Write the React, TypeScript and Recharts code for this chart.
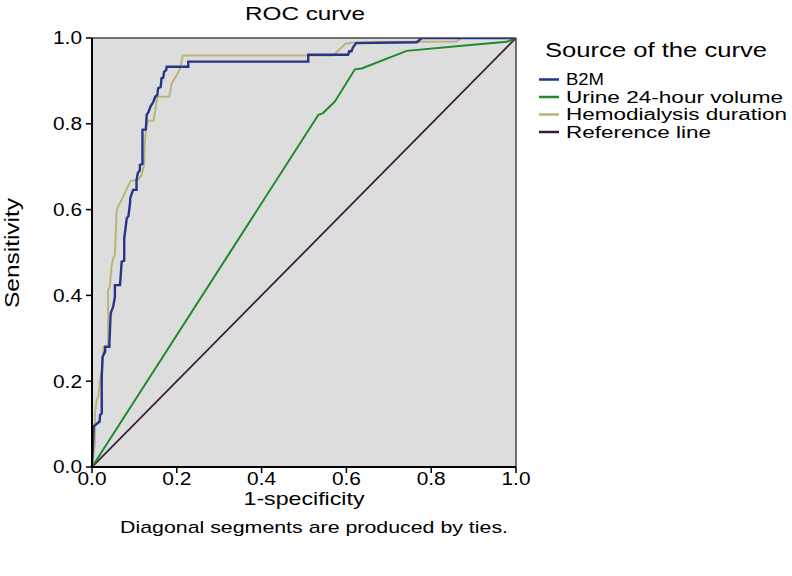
import React from 'react';
import {
  LineChart, Line, XAxis, YAxis, CartesianGrid, ReferenceLine,
} from 'recharts';

// ROC points: [1-specificity, sensitivity]
const b2mPoints: [number, number][] = [
  [0, 0], [0.004, 0.095], [0.018, 0.106], [0.019, 0.121], [0.023, 0.125],
  [0.023, 0.21], [0.025, 0.257], [0.031, 0.269], [0.031, 0.28], [0.041, 0.28],
  [0.041, 0.288], [0.044, 0.358], [0.05, 0.374], [0.054, 0.397], [0.054, 0.424],
  [0.066, 0.424], [0.068, 0.45], [0.07, 0.479], [0.076, 0.481], [0.076, 0.533],
  [0.079, 0.556], [0.082, 0.58], [0.086, 0.585], [0.09, 0.618], [0.09, 0.626],
  [0.094, 0.638], [0.097, 0.646], [0.105, 0.646], [0.105, 0.669], [0.108, 0.685],
  [0.113, 0.692], [0.113, 0.704], [0.119, 0.706], [0.119, 0.786], [0.127, 0.787],
  [0.129, 0.821], [0.133, 0.827], [0.138, 0.84], [0.145, 0.852], [0.149, 0.863],
  [0.154, 0.867], [0.156, 0.883], [0.162, 0.886], [0.164, 0.906], [0.168, 0.907],
  [0.17, 0.921], [0.175, 0.925], [0.176, 0.933], [0.227, 0.933], [0.227, 0.945],
  [0.51, 0.945], [0.51, 0.961], [0.604, 0.961], [0.607, 0.969], [0.612, 0.969],
  [0.615, 0.977], [0.623, 0.988], [0.766, 0.99], [0.778, 1], [1, 1],
];

const urinePoints: [number, number][] = [
  [0, 0], [0.534, 0.821], [0.545, 0.825], [0.573, 0.852], [0.62, 0.927],
  [0.636, 0.929], [0.742, 0.97], [0.899, 0.984], [0.978, 0.991], [1, 1],
];

const hemoPoints: [number, number][] = [
  [0, 0], [0.007, 0.055], [0.007, 0.125], [0.011, 0.156], [0.015, 0.164],
  [0.019, 0.203], [0.023, 0.226], [0.027, 0.28], [0.038, 0.284], [0.038, 0.413],
  [0.042, 0.42], [0.046, 0.467], [0.05, 0.486], [0.054, 0.494], [0.058, 0.595],
  [0.061, 0.607], [0.066, 0.615], [0.09, 0.665], [0.092, 0.667], [0.109, 0.669],
  [0.117, 0.681], [0.123, 0.704], [0.125, 0.762], [0.129, 0.801], [0.133, 0.807],
  [0.145, 0.807], [0.149, 0.83], [0.154, 0.863], [0.182, 0.863], [0.188, 0.894],
  [0.2, 0.914], [0.208, 0.929], [0.214, 0.959], [0.569, 0.959], [0.597, 0.986],
  [0.62, 0.99], [0.86, 0.992], [0.87, 1], [1, 1],
];

const referencePoints: [number, number][] = [[0, 0], [1, 1]];

const axisTicks = [0, 0.2, 0.4, 0.6, 0.8, 1];

const series = [
  { name: 'B2M', points: b2mPoints, color: '#26348a', width: 2.4, textLen: 38 },
  { name: 'Urine 24-hour volume', points: urinePoints, color: '#22882c', width: 2, textLen: 217 },
  { name: 'Hemodialysis duration', points: hemoPoints, color: '#bab47c', width: 2, textLen: 221 },
  { name: 'Reference line', points: referencePoints, color: '#3b1e3c', width: 1.8, textLen: 145 },
];

const toRows = (pts: [number, number][]) => pts.map(([x, y]) => ({ x, y }));

const FONT = '"Liberation Sans", Arial, sans-serif';

// tick labels in the original are a bit wider than the font, so stretch them
const XTick = ({ x, y, payload }: any) => (
  <text x={x} y={y} dy="0.71em" textAnchor="middle" fontSize={18} fill="#000"
    textLength={29} lengthAdjust="spacingAndGlyphs">
    {Number(payload.value).toFixed(1)}
  </text>
);

const YTick = ({ x, y, payload }: any) => (
  <text x={x} y={y} dy="0.355em" textAnchor="end" fontSize={18} fill="#000"
    textLength={29} lengthAdjust="spacingAndGlyphs">
    {Number(payload.value).toFixed(1)}
  </text>
);

const App: React.FC = () => {
  // draw order: reference, urine, hemodialysis, then B2M on top
  const drawOrder = [series[3], series[1], series[2], series[0]];

  return (
    <div style={{ position: 'absolute', left: 0, top: 0, width: 792, height: 576, background: '#fff', fontFamily: FONT }}>
      <LineChart width={792} height={576} margin={{ top: 38, right: 276, bottom: 79, left: 52 }}>
        <CartesianGrid horizontal={false} vertical={false} fill="#dddddd" stroke="none" />
        <XAxis
          type="number"
          dataKey="x"
          domain={[0, 1]}
          ticks={axisTicks}
          height={30}
          tick={<XTick />}
          tickSize={6}
          tickMargin={-1}
          axisLine={{ stroke: '#000', strokeWidth: 2 }}
          tickLine={{ stroke: '#000', strokeWidth: 1.5 }}
          allowDataOverflow
        />
        <YAxis
          type="number"
          dataKey="y"
          domain={[0, 1]}
          ticks={axisTicks}
          width={40}
          tick={<YTick />}
          tickSize={6}
          tickMargin={4}
          axisLine={{ stroke: '#000', strokeWidth: 2 }}
          tickLine={{ stroke: '#000', strokeWidth: 1.5 }}
          allowDataOverflow
        />
        <ReferenceLine y={1} stroke="#444" strokeWidth={1.5} />
        <ReferenceLine x={1} stroke="#444" strokeWidth={1.5} />
        {drawOrder.map((s) => (
          <Line
            key={s.name}
            data={toRows(s.points)}
            dataKey="y"
            type="linear"
            stroke={s.color}
            strokeWidth={s.width}
            dot={false}
            activeDot={false}
            isAnimationActive={false}
          />
        ))}
      </LineChart>

      <svg width={792} height={576} style={{ position: 'absolute', left: 0, top: 0, pointerEvents: 'none' }}>
        <text x={305} y={20} textAnchor="middle" fontSize={19} textLength={120} lengthAdjust="spacingAndGlyphs" fill="#000">
          ROC curve
        </text>
        <text
          x={19}
          y={253}
          textAnchor="middle"
          fontSize={20}
          textLength={110}
          lengthAdjust="spacingAndGlyphs"
          transform="rotate(-90 19 253)"
          fill="#000"
        >
          Sensitivity
        </text>
        <text x={304} y={505} textAnchor="middle" fontSize={19} textLength={121} lengthAdjust="spacingAndGlyphs" fill="#000">
          1-specificity
        </text>
        <text x={314} y={533} textAnchor="middle" fontSize={17} textLength={388} lengthAdjust="spacingAndGlyphs" fill="#000">
          Diagonal segments are produced by ties.
        </text>

        <text x={545} y={57} fontSize={20} textLength={222} lengthAdjust="spacingAndGlyphs" fill="#000">
          Source of the curve
        </text>
        {series.map((s, i) => (
          <g key={s.name}>
            <line x1={539} x2={559} y1={79.5 + i * 17.5} y2={79.5 + i * 17.5} stroke={s.color} strokeWidth={2.5} />
            <text x={566} y={85 + i * 17.5} fontSize={16} textLength={s.textLen} lengthAdjust="spacingAndGlyphs" fill="#000">
              {s.name}
            </text>
          </g>
        ))}
      </svg>
    </div>
  );
};

export default App;
